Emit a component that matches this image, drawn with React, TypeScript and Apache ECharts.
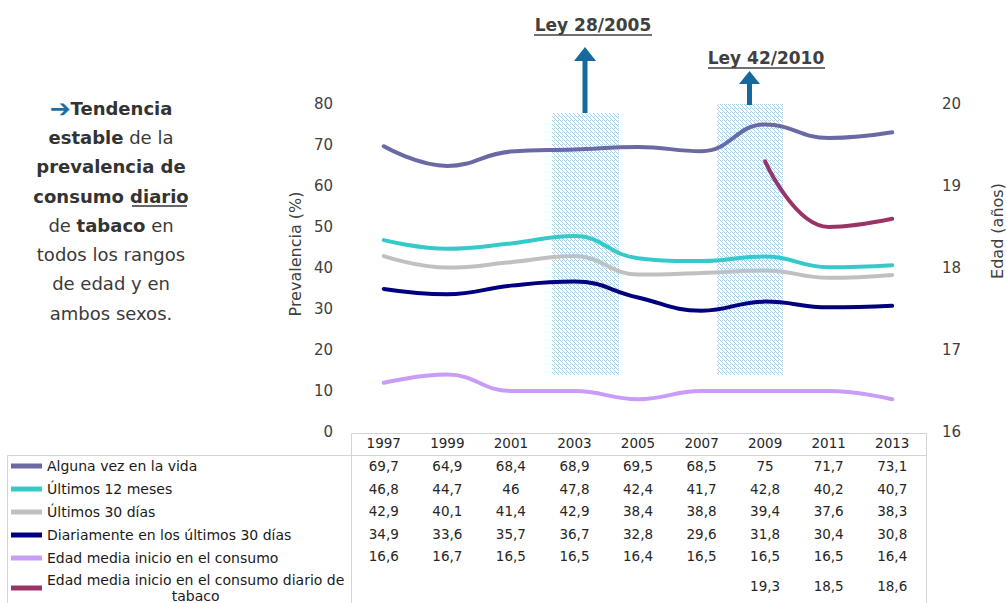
import { useEffect, useRef } from 'react';
import * as echarts from 'echarts';

const years = ['1997', '1999', '2001', '2003', '2005', '2007', '2009', '2011', '2013'];
const algunaVez = [69.7, 64.9, 68.4, 68.9, 69.5, 68.5, 75, 71.7, 73.1];
const ultimos12 = [46.8, 44.7, 46, 47.8, 42.4, 41.7, 42.8, 40.2, 40.7];
const ultimos30 = [42.9, 40.1, 41.4, 42.9, 38.4, 38.8, 39.4, 37.6, 38.3];
const diariamente = [34.9, 33.6, 35.7, 36.7, 32.8, 29.6, 31.8, 30.4, 30.8];
const edadInicio = [16.6, 16.7, 16.5, 16.5, 16.4, 16.5, 16.5, 16.5, 16.4];
const edadDiario = [null, null, null, null, null, null, 19.3, 18.5, 18.6];

const seriesNames = [
  'Alguna vez en la vida',
  'Últimos 12 meses',
  'Últimos 30 días',
  'Diariamente en los últimos 30 días',
  'Edad media inicio en el consumo',
  'Edad media inicio en el consumo diario de tabaco',
];
const seriesData = [algunaVez, ultimos12, ultimos30, diariamente, edadInicio, edadDiario];
const seriesAxis = [0, 0, 0, 0, 1, 1];
const seriesColors = ['#6b69a3', '#36c9c9', '#c0c0c0', '#00007f', '#c99cf7', '#9b3466'];

const FONT = 'DejaVu Sans';
const TEXT = '#3a3a3a';

function fmt(v: number | null | undefined): string {
  if (v == null) return '';
  return String(v).replace('.', ',');
}

function makeHatch(): string {
  const c = document.createElement('canvas');
  c.width = 4;
  c.height = 4;
  const ctx = c.getContext('2d')!;
  ctx.fillStyle = '#ffffff';
  ctx.fillRect(0, 0, 4, 4);
  ctx.fillStyle = '#abcde2';
  const pts = [[0, 0], [1, 1], [2, 2], [3, 3], [2, 0]];
  for (const [x, y] of pts) ctx.fillRect(x, y, 1, 1);
  return c.toDataURL();
}

export default function App() {
  const ref = useRef<HTMLDivElement>(null);
  useEffect(() => {
    const chart = echarts.init(ref.current!, null, { renderer: 'svg' });
    const hatch = { image: makeHatch(), repeat: 'repeat', imageWidth: 4, imageHeight: 4 };
    const rowOffsets = [23, 46, 68, 91, 113, 143];
    const lastName = seriesNames[5];
    const border = '#d4d4d4';
    const arrowColor = '#16699c';

    const option: any = {
      animation: false,
      textStyle: { fontFamily: FONT },
      grid: { left: 352, right: 83, top: 104, bottom: 171, containLabel: false },
      legend: {
        orient: 'vertical',
        left: 6,
        top: 452,
        height: 180,
        width: 360,
        itemWidth: 31,
        itemHeight: 5,
        itemGap: 5,
        icon: 'rect',
        selectedMode: false,
        data: seriesNames,
        textStyle: {
          fontSize: 14,
          color: '#1a1a1a',
          fontFamily: FONT,
          lineHeight: 18,
          rich: {
            a: { fontSize: 14, lineHeight: 16, fontFamily: FONT, color: '#1a1a1a' },
            c: { fontSize: 14, lineHeight: 16, fontFamily: FONT, color: '#1a1a1a', align: 'center' },
          },
        },
        formatter: (n: string) =>
          n === lastName ? '{a|Edad media inicio en el consumo diario de}\n{c|tabaco}' : n,
      },
      xAxis: [
        {
          type: 'category',
          data: years,
          position: 'bottom',
          axisLine: { show: false },
          axisTick: { show: false },
          splitLine: { show: false },
          axisLabel: { interval: 0, margin: 4, fontSize: 13.5, color: '#262626', fontFamily: FONT },
        },
        ...seriesData.map((row, k) => ({
          type: 'category',
          data: years,
          position: 'bottom',
          offset: rowOffsets[k],
          axisLine: { show: false },
          axisTick: { show: false },
          splitLine: { show: false },
          axisLabel: {
            interval: 0,
            margin: 4,
            fontSize: 13.5,
            color: '#262626',
            fontFamily: FONT,
            formatter: (_v: string, i: number) => fmt(row[i]),
          },
        })),
      ],
      yAxis: [
        {
          type: 'value',
          min: 0,
          max: 80,
          interval: 10,
          position: 'left',
          axisLine: { show: false },
          axisTick: { show: false },
          splitLine: { show: false },
          axisLabel: { margin: 19, fontSize: 15, color: '#404040', fontFamily: FONT },
        },
        {
          type: 'value',
          min: 16,
          max: 20,
          interval: 1,
          position: 'right',
          axisLine: { show: false },
          axisTick: { show: false },
          splitLine: { show: false },
          axisLabel: { margin: 18, fontSize: 15, color: '#404040', fontFamily: FONT },
        },
      ],
      series: seriesData.map((d, k) => ({
        name: seriesNames[k],
        type: 'line',
        data: d,
        xAxisIndex: 0,
        yAxisIndex: seriesAxis[k],
        smooth: 0.45,
        symbol: 'none',
        z: 5,
        lineStyle: { width: 4, color: seriesColors[k], cap: 'round' },
        itemStyle: { color: seriesColors[k] },
      })),
      graphic: [
        // hatched law periods
        { type: 'rect', z: 1, shape: { x: 552, y: 113, width: 67, height: 262 }, style: { fill: hatch } },
        { type: 'rect', z: 1, shape: { x: 717, y: 104, width: 66, height: 271 }, style: { fill: hatch } },
        // arrows
        { type: 'rect', z: 2, shape: { x: 582.5, y: 60, width: 5, height: 53 }, style: { fill: arrowColor } },
        { type: 'polygon', z: 2, shape: { points: [[574, 61], [596, 61], [585, 47]] }, style: { fill: arrowColor } },
        { type: 'rect', z: 2, shape: { x: 747, y: 83, width: 5, height: 22 }, style: { fill: arrowColor } },
        { type: 'polygon', z: 2, shape: { points: [[739, 84], [760, 84], [749.5, 71]] }, style: { fill: arrowColor } },
        // law titles
        {
          type: 'text', z: 3, x: 593, y: 25,
          style: { text: 'Ley 28/2005', fill: '#404040', font: `bold 17px "${FONT}"`, textAlign: 'center', verticalAlign: 'middle' },
        },
        { type: 'line', z: 3, shape: { x1: 534, y1: 35, x2: 652, y2: 35 }, style: { stroke: '#404040', lineWidth: 1.5 } },
        {
          type: 'text', z: 3, x: 766, y: 58,
          style: { text: 'Ley 42/2010', fill: '#404040', font: `bold 17px "${FONT}"`, textAlign: 'center', verticalAlign: 'middle' },
        },
        { type: 'line', z: 3, shape: { x1: 708, y1: 68, x2: 825, y2: 68 }, style: { stroke: '#404040', lineWidth: 1.5 } },
        // axis names
        {
          type: 'text', x: 295, y: 254, rotation: Math.PI / 2,
          style: { text: 'Prevalencia (%)', fill: '#404040', font: `16px "${FONT}"`, textAlign: 'center', verticalAlign: 'middle' },
        },
        {
          type: 'text', x: 997, y: 231, rotation: Math.PI / 2,
          style: { text: 'Edad (años)', fill: '#404040', font: `16px "${FONT}"`, textAlign: 'center', verticalAlign: 'middle' },
        },
        // left comment
        {
          type: 'text', x: 111, y: 93.5,
          style: {
            text: [
              '{ar|➔}{b|Tendencia}',
              '{b|estable}{r| de la}',
              '{b|prevalencia de}',
              '{b|consumo diario}',
              '{r|de }{b|tabaco}{r| en}',
              '{r|todos los rangos}',
              '{r|de edad y en}',
              '{r|ambos sexos.}',
            ].join('\n'),
            textAlign: 'center',
            verticalAlign: 'top',
            font: `18px "${FONT}"`,
            fill: TEXT,
            rich: {
              b: { fontWeight: 'bold', fontSize: 18, fontFamily: FONT, lineHeight: 29.3, fill: '#333333', color: '#333333' },
              r: { fontSize: 18, fontFamily: FONT, lineHeight: 29.3, fill: TEXT, color: TEXT },
              ar: { fontWeight: 'bold', fontSize: 25, fontFamily: FONT, lineHeight: 29.3, fill: '#1f6fa3', color: '#1f6fa3' },
            },
          },
        },
        { type: 'line', shape: { x1: 132, y1: 206, x2: 187, y2: 206 }, style: { stroke: '#333333', lineWidth: 1.5 } },
        // table borders
        { type: 'line', shape: { x1: 351.5, y1: 433.5, x2: 926.5, y2: 433.5 }, style: { stroke: border, lineWidth: 1 } },
        { type: 'line', shape: { x1: 7.5, y1: 455.5, x2: 926.5, y2: 455.5 }, style: { stroke: border, lineWidth: 1 } },
        { type: 'line', shape: { x1: 351.5, y1: 433.5, x2: 351.5, y2: 603 }, style: { stroke: border, lineWidth: 1 } },
        { type: 'line', shape: { x1: 926.5, y1: 433.5, x2: 926.5, y2: 603 }, style: { stroke: border, lineWidth: 1 } },
        { type: 'line', shape: { x1: 7.5, y1: 455.5, x2: 7.5, y2: 603 }, style: { stroke: border, lineWidth: 1 } },
      ],
    };
    chart.setOption(option);
    return () => chart.dispose();
  }, []);
  return (
    <div
      ref={ref}
      style={{ width: 1007, height: 603, position: 'absolute', left: 0, top: 0, background: '#ffffff' }}
    />
  );
}
